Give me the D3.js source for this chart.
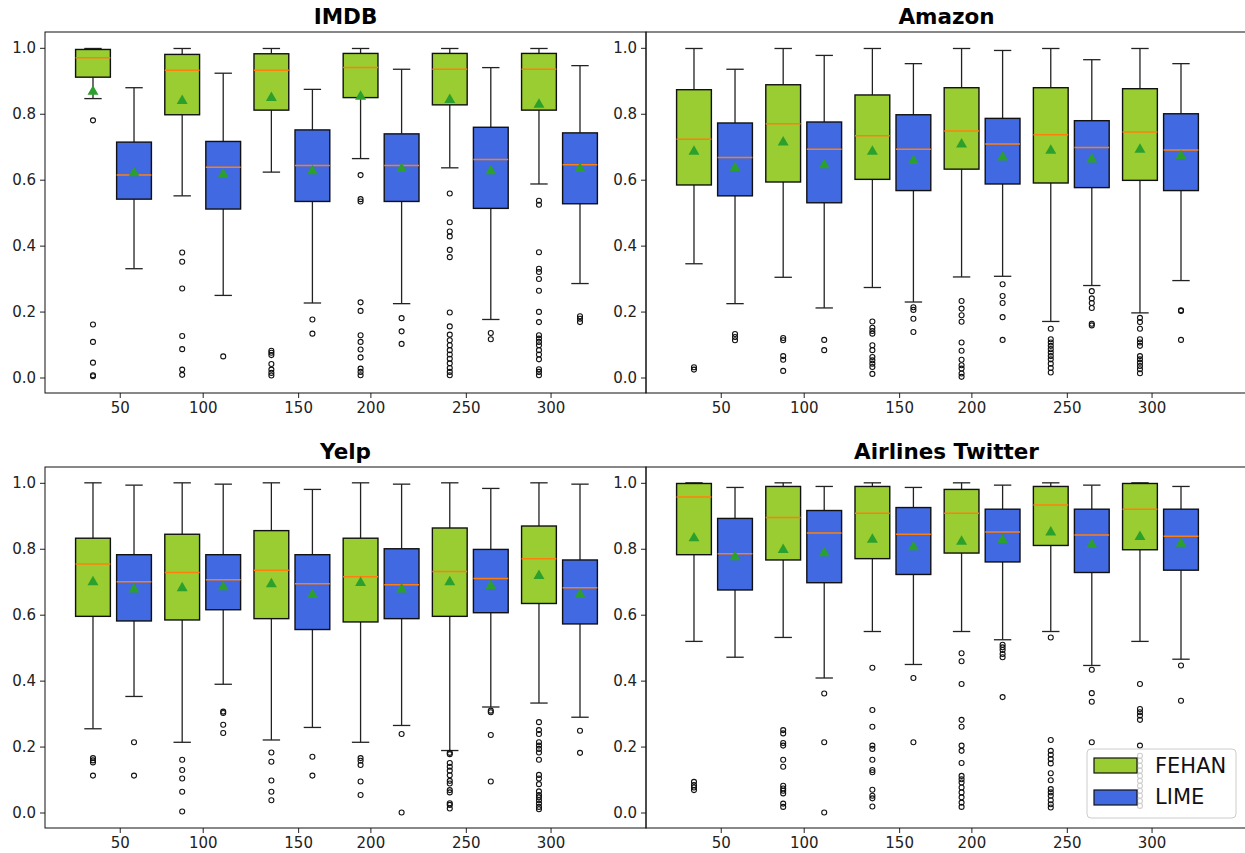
<!DOCTYPE html>
<html>
<head>
<meta charset="utf-8">
<script src="https://cdn.jsdelivr.net/npm/d3@7"></script>
<style>
  body { margin: 0; background: #fff; }
  svg { font-family: "DejaVu Sans", sans-serif; }
</style>
</head>
<body>
<div id="chart"></div>
<script>
// sample sizes (x tick labels), their tick spots on the group axis, methods, panels
const sizes = [50, 100, 150, 200, 250, 300];
const tickAt = [0.07, 1.0, 2.07, 2.88, 3.95, 4.9];
const methods = ["FEHAN", "LIME"];
const datasets = ["IMDB", "Amazon", "Yelp", "Airlines Twitter"];

// box stats: [whisker low, q1, median, q3, whisker high, mean]
const imdbFehan = [
  [0.846, 0.911, 0.970, 0.995, 0.998, 0.867],
  [0.551, 0.797, 0.932, 0.980, 0.998, 0.839],
  [0.623, 0.811, 0.932, 0.982, 0.998, 0.848],
  [0.664, 0.849, 0.940, 0.983, 0.998, 0.852],
  [0.636, 0.827, 0.935, 0.983, 0.998, 0.842],
  [0.587, 0.811, 0.935, 0.983, 0.998, 0.828]
];
const imdbLime = [
  [0.330, 0.541, 0.614, 0.714, 0.879, 0.620],
  [0.249, 0.511, 0.638, 0.716, 0.923, 0.616],
  [0.226, 0.534, 0.643, 0.751, 0.874, 0.626],
  [0.224, 0.534, 0.643, 0.739, 0.935, 0.633],
  [0.176, 0.513, 0.661, 0.759, 0.940, 0.626],
  [0.285, 0.527, 0.645, 0.742, 0.946, 0.633]
];
const amazonFehan = [
  [0.345, 0.584, 0.723, 0.873, 0.998, 0.685],
  [0.304, 0.593, 0.770, 0.888, 0.998, 0.713],
  [0.273, 0.601, 0.733, 0.857, 0.998, 0.685],
  [0.305, 0.632, 0.748, 0.879, 0.998, 0.707],
  [0.170, 0.590, 0.736, 0.879, 0.998, 0.688],
  [0.196, 0.598, 0.745, 0.876, 0.998, 0.691]
];
const amazonLime = [
  [0.224, 0.551, 0.667, 0.772, 0.935, 0.635],
  [0.211, 0.530, 0.692, 0.775, 0.977, 0.644],
  [0.229, 0.567, 0.692, 0.797, 0.952, 0.657],
  [0.307, 0.587, 0.708, 0.786, 0.992, 0.668],
  [0.279, 0.576, 0.698, 0.779, 0.964, 0.662],
  [0.294, 0.567, 0.690, 0.800, 0.952, 0.672]
];
const yelpFehan = [
  [0.254, 0.595, 0.754, 0.832, 1.000, 0.699],
  [0.213, 0.584, 0.728, 0.844, 1.000, 0.681],
  [0.220, 0.588, 0.735, 0.855, 1.000, 0.693],
  [0.213, 0.578, 0.715, 0.832, 1.000, 0.697],
  [0.188, 0.595, 0.731, 0.863, 1.000, 0.699],
  [0.332, 0.634, 0.770, 0.869, 1.000, 0.718]
];
const yelpLime = [
  [0.352, 0.581, 0.700, 0.782, 0.993, 0.677],
  [0.389, 0.615, 0.706, 0.782, 0.996, 0.684],
  [0.258, 0.555, 0.694, 0.782, 0.980, 0.660],
  [0.264, 0.588, 0.691, 0.800, 0.996, 0.677],
  [0.320, 0.606, 0.710, 0.798, 0.983, 0.687],
  [0.289, 0.572, 0.682, 0.766, 0.996, 0.661]
];
const airlinesFehan = [
  [0.519, 0.782, 0.957, 0.998, 1.000, 0.832],
  [0.531, 0.766, 0.895, 0.989, 1.000, 0.797],
  [0.549, 0.770, 0.908, 0.989, 1.000, 0.828],
  [0.549, 0.787, 0.908, 0.980, 1.000, 0.822],
  [0.549, 0.810, 0.933, 0.989, 1.000, 0.850],
  [0.519, 0.797, 0.920, 0.998, 1.000, 0.836]
];
const airlinesLime = [
  [0.471, 0.675, 0.785, 0.892, 0.986, 0.775],
  [0.408, 0.697, 0.848, 0.916, 0.989, 0.787],
  [0.449, 0.722, 0.844, 0.925, 0.986, 0.805],
  [0.524, 0.760, 0.851, 0.920, 0.993, 0.826],
  [0.446, 0.728, 0.842, 0.920, 0.993, 0.813],
  [0.465, 0.735, 0.838, 0.920, 0.989, 0.816]
];

// outliers, one list per sample size
const imdbFehanOut = [
  [0.780, 0.161, 0.108, 0.045, 0.007, 0.004],
  [0.379, 0.351, 0.270, 0.126, 0.086, 0.024, 0.008],
  [0.081, 0.075, 0.068, 0.041, 0.024, 0.014, 0.006],
  [0.614, 0.541, 0.534, 0.228, 0.202, 0.128, 0.108, 0.085, 0.061, 0.027, 0.017, 0.007],
  [0.558, 0.471, 0.443, 0.428, 0.387, 0.365, 0.197, 0.155, 0.130, 0.113, 0.098, 0.083, 0.070, 0.057, 0.043, 0.029, 0.017, 0.007],
  [0.536, 0.524, 0.380, 0.330, 0.320, 0.299, 0.263, 0.199, 0.168, 0.128, 0.118, 0.108, 0.098, 0.083, 0.070, 0.055, 0.025, 0.017, 0.007]
];
const imdbLimeOut = [
  [],
  [0.064],
  [0.176, 0.133],
  [0.180, 0.140, 0.102],
  [0.135, 0.116],
  [0.186, 0.178, 0.168]
];
const amazonFehanOut = [
  [0.031, 0.024],
  [0.120, 0.113, 0.065, 0.054, 0.020],
  [0.170, 0.151, 0.141, 0.133, 0.098, 0.083, 0.062, 0.052, 0.042, 0.032, 0.011],
  [0.232, 0.209, 0.189, 0.169, 0.106, 0.081, 0.054, 0.037, 0.027, 0.012, 0.002],
  [0.148, 0.116, 0.106, 0.096, 0.086, 0.076, 0.065, 0.055, 0.042, 0.029, 0.015],
  [0.181, 0.168, 0.148, 0.116, 0.106, 0.096, 0.065, 0.055, 0.045, 0.035, 0.025, 0.013]
];
const amazonLimeOut = [
  [0.132, 0.123, 0.113],
  [0.114, 0.083],
  [0.213, 0.205, 0.178, 0.138],
  [0.283, 0.247, 0.226, 0.183, 0.114],
  [0.262, 0.240, 0.226, 0.211, 0.163, 0.158],
  [0.204, 0.202, 0.114]
];
const yelpFehanOut = [
  [0.165, 0.158, 0.152, 0.112],
  [0.160, 0.129, 0.103, 0.063, 0.003],
  [0.182, 0.154, 0.097, 0.063, 0.037],
  [0.165, 0.157, 0.144, 0.094, 0.053],
  [0.181, 0.177, 0.150, 0.139, 0.127, 0.113, 0.096, 0.088, 0.068, 0.061, 0.028, 0.023, 0.012],
  [0.274, 0.250, 0.238, 0.213, 0.203, 0.193, 0.182, 0.160, 0.114, 0.103, 0.086, 0.064, 0.053, 0.046, 0.037, 0.027, 0.017, 0.010]
];
const yelpLimeOut = [
  [0.213, 0.112],
  [0.306, 0.302, 0.266, 0.241],
  [0.169, 0.112],
  [0.238, 0.000],
  [0.309, 0.304, 0.235, 0.094],
  [0.248, 0.181]
];
const airlinesFehanOut = [
  [0.093, 0.083, 0.076, 0.068],
  [0.250, 0.240, 0.211, 0.203, 0.160, 0.139, 0.081, 0.073, 0.066, 0.058, 0.027, 0.017],
  [0.439, 0.311, 0.260, 0.203, 0.193, 0.160, 0.129, 0.122, 0.069, 0.051, 0.043, 0.018],
  [0.483, 0.459, 0.390, 0.281, 0.260, 0.203, 0.187, 0.150, 0.111, 0.101, 0.091, 0.076, 0.061, 0.046, 0.030, 0.017],
  [0.531, 0.220, 0.187, 0.175, 0.162, 0.149, 0.119, 0.098, 0.071, 0.061, 0.051, 0.037, 0.025, 0.015],
  [0.390, 0.314, 0.304, 0.294, 0.281, 0.203, 0.172, 0.157, 0.142, 0.127, 0.111, 0.096, 0.081, 0.066, 0.051, 0.035, 0.020]
];
const airlinesLimeOut = [
  [],
  [0.361, 0.213, 0.000],
  [0.408, 0.213],
  [0.509, 0.501, 0.493, 0.481, 0.471, 0.350],
  [0.433, 0.362, 0.336, 0.213],
  [0.446, 0.339]
];

const boxes = [[imdbFehan, imdbLime], [amazonFehan, amazonLime], [yelpFehan, yelpLime], [airlinesFehan, airlinesLime]];
const outliers = [[imdbFehanOut, imdbLimeOut], [amazonFehanOut, amazonLimeOut], [yelpFehanOut, yelpLimeOut], [airlinesFehanOut, airlinesLimeOut]];

const colors = { FEHAN: "#9acd32", LIME: "#4169e1" };
const width = 1245, height = 853;
const panelW = 601;
const lefts = [45, 646];
const tops = [32, 467];
const panelH = 361;

const svg = d3.select("#chart").append("svg")
  .attr("width", width)
  .attr("height", height);

const tri = d3.symbol(d3.symbolTriangle).size(52);

datasets.forEach((name, p) => {
  const x0 = lefts[p % 2], y0 = tops[Math.floor(p / 2)];

  const x = d3.scaleLinear().domain([-0.768, 5.97]).range([x0, x0 + panelW]);
  const y = d3.scaleLinear().domain([-0.047, 1.048]).range([y0 + panelH, y0]);
  const g = svg.append("g");

  const bw = x(0.39) - x(0);
  const cap = bw / 2;

  methods.forEach((m, mi) => {
    const off = mi === 0 ? -0.23 : 0.23;
    boxes[p][mi].forEach((s, k) => {
      const cx = x(k + off);
      const [lo, q1, med, q3, hi, mean] = s;
      const bg = g.append("g");
      // whiskers
      bg.append("line").attr("x1", cx).attr("x2", cx).attr("y1", y(q1)).attr("y2", y(lo))
        .attr("stroke", "#222").attr("stroke-width", 1.3);
      bg.append("line").attr("x1", cx).attr("x2", cx).attr("y1", y(q3)).attr("y2", y(hi))
        .attr("stroke", "#222").attr("stroke-width", 1.3);
      bg.append("line").attr("x1", cx - cap / 2).attr("x2", cx + cap / 2).attr("y1", y(lo)).attr("y2", y(lo))
        .attr("stroke", "#222").attr("stroke-width", 1.3);
      bg.append("line").attr("x1", cx - cap / 2).attr("x2", cx + cap / 2).attr("y1", y(hi)).attr("y2", y(hi))
        .attr("stroke", "#222").attr("stroke-width", 1.3);
      // box
      bg.append("rect")
        .attr("x", cx - bw / 2).attr("width", bw)
        .attr("y", y(q3)).attr("height", y(q1) - y(q3))
        .attr("fill", colors[m]).attr("stroke", "#111").attr("stroke-width", 1.4);
      // median
      bg.append("line").attr("x1", cx - bw / 2).attr("x2", cx + bw / 2).attr("y1", y(med)).attr("y2", y(med))
        .attr("stroke", "#ff7f0e").attr("stroke-width", 1.5);
      // mean
      bg.append("path").attr("d", tri)
        .attr("transform", `translate(${cx},${y(mean)})`)
        .attr("fill", "#2ca02c");
      // outliers
      bg.selectAll("circle").data(outliers[p][mi][k]).join("circle")
        .attr("cx", cx).attr("cy", d => y(d)).attr("r", 2.5)
        .attr("fill", "none").attr("stroke", "#111").attr("stroke-width", 1.1);
    });
  });

  // axes
  const ya = g.append("g").attr("transform", `translate(${x0},0)`)
    .call(d3.axisLeft(y).tickValues([0, 0.2, 0.4, 0.6, 0.8, 1.0]).tickFormat(d3.format(".1f")).tickSize(5).tickPadding(4));
  const xa = g.append("g").attr("transform", `translate(0,${y0 + panelH})`)
    .call(d3.axisBottom(x).tickValues(tickAt).tickFormat((d, i) => sizes[i]).tickSize(5).tickPadding(4));
  [ya, xa].forEach(a => {
    a.select(".domain").remove();
    a.selectAll("text").attr("font-size", 15).attr("fill", "#222").attr("font-family", "DejaVu Sans, sans-serif");
    a.selectAll("line").attr("stroke", "#222");
  });

  // frame
  g.append("rect").attr("x", x0).attr("y", y0).attr("width", panelW).attr("height", panelH)
    .attr("fill", "none").attr("stroke", "#111").attr("stroke-width", 1);

  // title
  g.append("text")
    .attr("x", x0 + panelW / 2).attr("y", y0 - 8)
    .attr("text-anchor", "middle")
    .attr("font-size", 21.5).attr("font-weight", "bold")
    .text(name);

  // legend in last panel
  if (p === 3) {
    const lg = g.append("g").attr("transform", "translate(1087,749)");
    lg.append("rect").attr("width", 149).attr("height", 69).attr("rx", 4)
      .attr("fill", "#fff").attr("fill-opacity", 0.8).attr("stroke", "#ccc");
    methods.forEach((m, i) => {
      lg.append("rect").attr("x", 7).attr("y", 9 + i * 32).attr("width", 43).attr("height", 15)
        .attr("fill", colors[m]).attr("stroke", "#111").attr("stroke-width", 1.2);
      lg.append("text").attr("x", 68).attr("y", 24 + i * 31)
        .attr("font-size", 21).attr("fill", "#111").text(m);
    });
  }
});
</script>
</body>
</html>
